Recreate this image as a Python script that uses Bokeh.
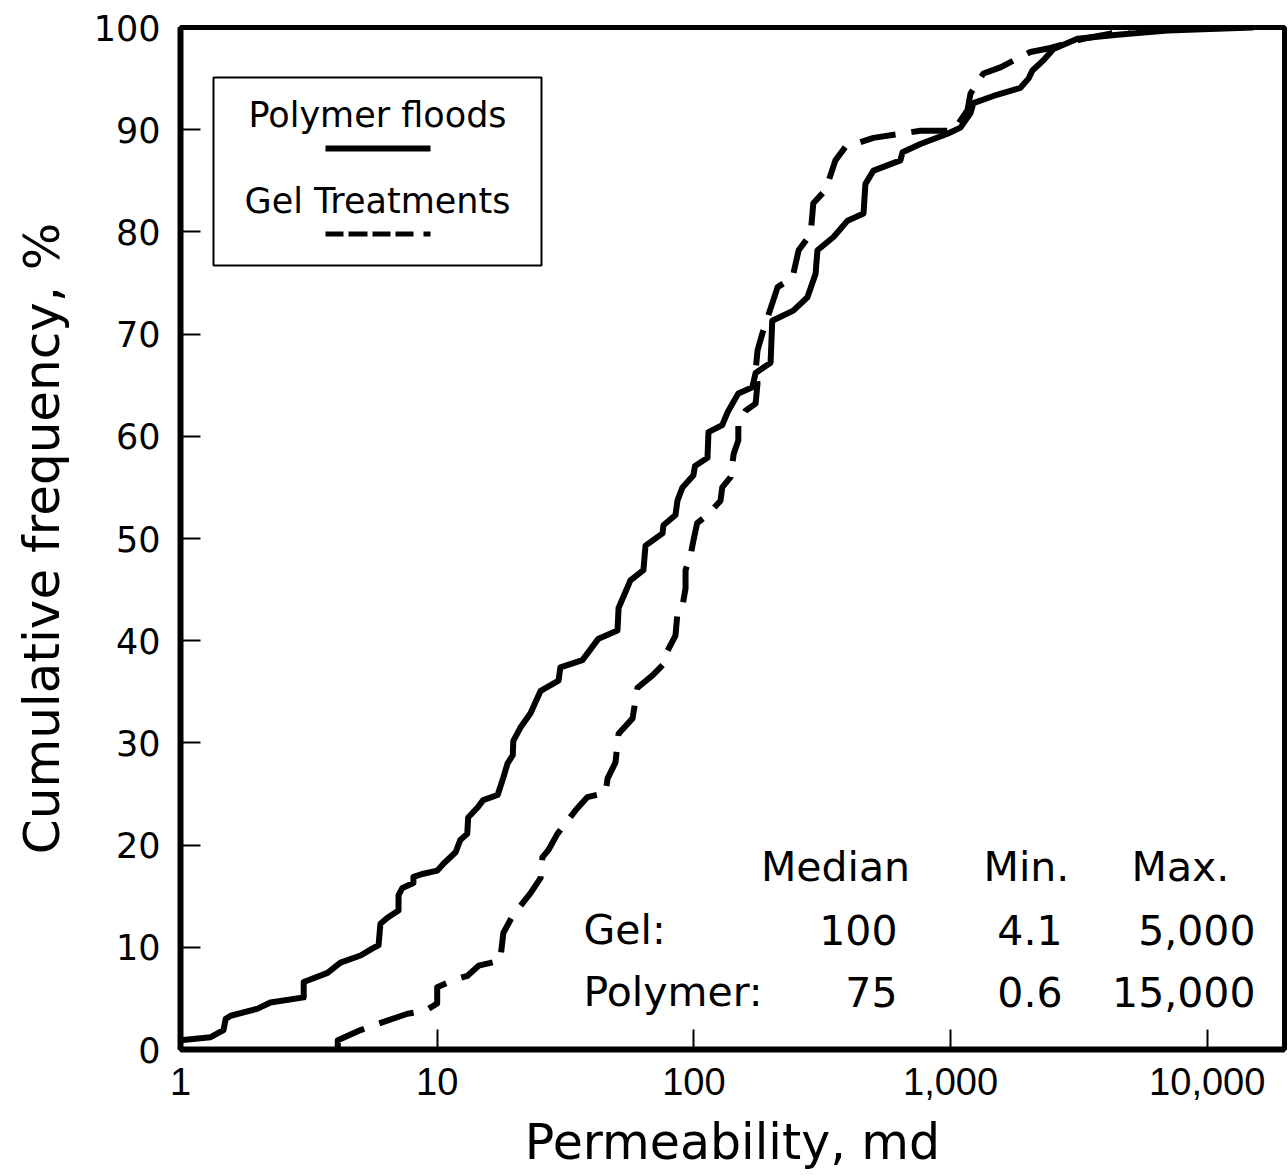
from bokeh.plotting import figure
from bokeh.models import FixedTicker, NumeralTickFormatter, BoxAnnotation, Label
from bokeh.embed import file_html
from bokeh.resources import INLINE

# ---- data ----
polymer_perm = [1.0, 1.31, 1.47, 1.50, 1.57, 2.0, 2.24, 3.02, 3.02, 3.74,
                4.2, 5.03, 5.6, 5.91, 6.01, 6.4, 7.07, 7.07, 7.32, 8.08,
                8.08, 8.84, 10.0, 10.6, 11.8, 12.3, 13.1, 13.2, 14.4, 15.1,
                17.2, 18.1, 18.8, 19.7, 19.8, 21.1, 23.1, 25.3, 29.7, 30.2,
                36.8, 42.5, 50.4, 50.9, 56.6, 63.6, 64.8, 75.5, 76.1, 84.8,
                86.3, 90.3, 99.6, 101, 113, 114, 129, 135, 149, 169,
                174, 199, 202, 244, 277, 298, 303, 350, 397, 458,
                466, 501, 638, 650, 763, 973, 1093, 1195, 1228, 1469,
                1872, 2012, 2084, 2301, 2517, 3122, 4467, 6998, 15000]
polymer_freq = [0.9, 1.2, 1.9, 3.0, 3.3, 4.0, 4.6, 5.1, 6.6, 7.5,
                8.5, 9.2, 9.9, 10.2, 12.3, 12.9, 13.6, 15.1, 15.8, 16.3,
                16.9, 17.2, 17.5, 18.2, 19.3, 20.5, 21.1, 22.7, 23.7, 24.4,
                24.9, 26.6, 28.0, 28.8, 30.2, 31.5, 32.9, 35.1, 36.1, 37.4,
                38.1, 40.2, 41.0, 43.2, 45.9, 46.9, 49.3, 50.5, 51.3, 52.3,
                53.7, 55.0, 56.2, 57.1, 57.9, 60.4, 61.1, 62.3, 64.2, 64.8,
                66.2, 67.2, 71.3, 72.3, 73.6, 75.9, 78.2, 79.5, 81.1, 81.8,
                84.7, 86.0, 87.0, 87.8, 88.6, 89.6, 90.2, 91.6, 92.6, 93.3,
                94.1, 95.0, 95.8, 96.8, 97.9, 98.9, 99.3, 99.7, 100]

gel_perm = [4.1, 4.1, 5.03, 5.85, 7.66, 9.0, 10.0, 10.0, 11.6, 13.1,
            14.5, 17.6, 18.1, 19.7, 23.1, 25.3, 25.7, 27.1, 29.4, 34.6,
            38.5, 45.3, 46.1, 49.5, 50.9, 57.7, 60.3, 69.0, 77.5, 78.9,
            84.8, 86.3, 90.3, 92.8, 92.8, 97.0, 99.6, 103, 114, 127,
            129, 139, 143, 149, 149, 159, 174, 177, 174, 177,
            185, 212, 242, 256, 285, 292, 326, 356, 389, 501,
            763, 1026, 1164, 1195, 1343, 1564, 2048, 2450, 3294, 4198,
            5000]
gel_freq = [0.2, 0.9, 1.9, 2.5, 3.5, 3.8, 4.5, 6.1, 6.8, 7.2,
            8.2, 8.7, 11.4, 13.1, 15.3, 16.8, 18.8, 19.5, 21.1, 23.4,
            24.7, 25.1, 26.5, 28.1, 30.9, 32.4, 35.4, 36.6, 37.9, 39.0,
            40.5, 42.7, 43.4, 45.1, 46.9, 48.3, 49.8, 51.5, 52.4, 53.7,
            55.0, 56.0, 58.3, 59.6, 61.3, 62.5, 63.2, 65.2, 66.4, 68.4,
            70.1, 74.6, 75.5, 78.2, 79.8, 82.8, 84.1, 87.0, 88.3, 89.2,
            89.9, 89.9, 91.9, 93.5, 95.5, 96.1, 97.6, 98.0, 98.9, 99.4,
            100]

x_ticks = [1, 10, 100, 1000, 10000]
y_ticks = [0, 10, 20, 30, 40, 50, 60, 70, 80, 90, 100]

legend_labels = ["Polymer floods", "Gel Treatments"]
table_header = ["Median", "Min.", "Max."]
table_rows = ["Gel:", "Polymer:"]
table_median = ["100", "75"]
table_min = ["4.1", "0.6"]
table_max = ["5,000", "15,000"]

# ---- figure ----
p = figure(width=1288, height=1176, x_axis_type="log",
           x_range=(1, 20000), y_range=(0, 100),
           output_backend="svg", toolbar_location=None,
           min_border_left=180, min_border_right=4,
           min_border_top=27, min_border_bottom=127)

p.background_fill_color = "white"
p.border_fill_color = "white"
p.outline_line_color = "black"
p.outline_line_width = 5
p.xgrid.visible = False
p.ygrid.visible = False

p.xaxis.ticker = FixedTicker(ticks=x_ticks)
p.xaxis.formatter = NumeralTickFormatter(format="0,0")
p.yaxis.ticker = FixedTicker(ticks=y_ticks)

for ax in (p.xaxis, p.yaxis):
    ax.axis_line_color = "black"
    ax.axis_line_width = 6
    ax.major_tick_in = 20
    ax.major_tick_out = 0
    ax.major_tick_line_width = 2
    ax.major_tick_line_color = "black"
    ax.minor_tick_line_color = None
    ax.major_label_text_color = "black"
    ax.axis_label_text_color = "black"
    ax.axis_label_text_font_style = "normal"

p.xaxis.major_label_text_font = "Liberation Sans"
p.xaxis.major_label_text_font_size = "38px"
p.xaxis.major_label_standoff = 18
p.xaxis.axis_label = "Permeability, md"
p.xaxis.axis_label_text_font = "DejaVu Sans"
p.xaxis.axis_label_text_font_size = "49px"
p.xaxis.axis_label_standoff = 16

p.yaxis.major_label_text_font = "DejaVu Sans"
p.yaxis.major_label_text_font_size = "35px"
p.yaxis.major_label_standoff = 20
p.yaxis.axis_label = "Cumulative frequency, %"
p.yaxis.axis_label_text_font = "DejaVu Sans"
p.yaxis.axis_label_text_font_size = "50px"
p.yaxis.axis_label_standoff = 20

# ---- curves ----
p.line(polymer_perm, polymer_freq, line_color="black", line_width=6,
       line_join="round", line_cap="round")
p.line(gel_perm, gel_freq, line_color="black", line_width=6,
       line_dash="36 16", line_join="round")

# ---- legend box (screen units, relative to the frame) ----
p.add_layout(BoxAnnotation(left=33, right=361, bottom=784, top=972,
                           left_units="screen", right_units="screen",
                           top_units="screen", bottom_units="screen",
                           fill_color=None, line_color="black", line_alpha=1,
                           line_width=2))
p.add_layout(Label(x=197, y=935, x_units="screen", y_units="screen",
                   text=legend_labels[0], text_align="center",
                   text_baseline="alphabetic", text_font="DejaVu Sans",
                   text_font_size="35px", text_color="black"))
p.add_layout(Label(x=197, y=849, x_units="screen", y_units="screen",
                   text=legend_labels[1], text_align="center",
                   text_baseline="alphabetic", text_font="DejaVu Sans",
                   text_font_size="35px", text_color="black"))
p.add_layout(BoxAnnotation(left=145, right=250, bottom=898, top=904,
                           left_units="screen", right_units="screen",
                           top_units="screen", bottom_units="screen",
                           fill_color="black", fill_alpha=1, line_color=None))
for l, r in [(145, 163), (168, 187), (192, 210), (215, 233), (243, 250)]:
    p.add_layout(BoxAnnotation(left=l, right=r, bottom=813, top=818,
                               left_units="screen", right_units="screen",
                               top_units="screen", bottom_units="screen",
                               fill_color="black", fill_alpha=1, line_color=None))

# ---- statistics table ----
tf = "DejaVu Sans"
ts = "41px"

def lab(x, y, t, align):
    p.add_layout(Label(x=x, y=y, x_units="screen", y_units="screen", text=t,
                       text_align=align, text_baseline="alphabetic",
                       text_font=tf, text_font_size=ts, text_color="black"))

header_y = 183
row_y = [120, 58]
lab(655, header_y, table_header[0], "center")
lab(846, header_y, table_header[1], "center")
lab(1000, header_y, table_header[2], "center")
for i in range(2):
    lab(403, row_y[i], table_rows[i], "left")
    lab(717, row_y[i], table_median[i], "right")
    lab(882, row_y[i], table_min[i], "right")
    lab(1075, row_y[i], table_max[i], "right")

open("out.html", "w").write(file_html(p, INLINE))
